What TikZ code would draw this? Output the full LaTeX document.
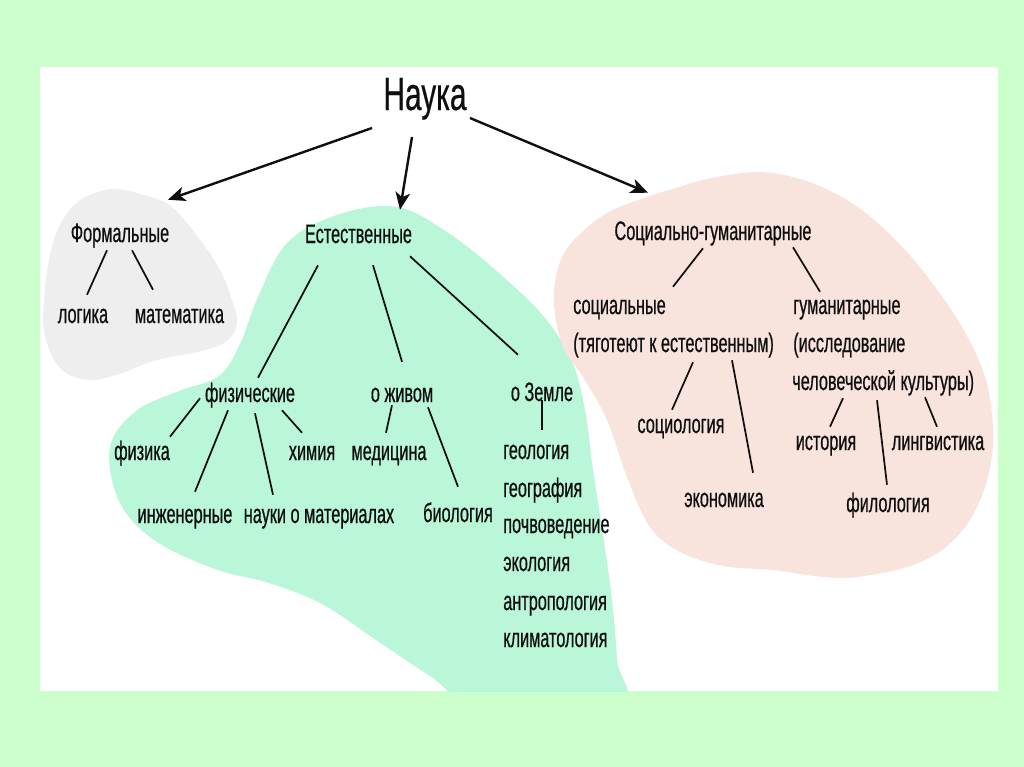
\documentclass[tikz,border=0pt]{standalone}
\usepackage{fontspec}
\setmainfont{Liberation Sans}[FakeStretch=0.61,FakeBold=0.6]
\newfontfamily\bigfont{Liberation Sans}[FakeStretch=0.64,FakeBold=0.4]
\usetikzlibrary{arrows.meta,calc}
\definecolor{bgcol}{RGB}{204,255,204}
\definecolor{greyblob}{RGB}{238,238,238}
\definecolor{mintblob}{RGB}{186,246,216}
\definecolor{pinkblob}{RGB}{249,228,221}
\definecolor{txt}{RGB}{15,15,15}
\begin{document}
\begin{tikzpicture}[x=0.75pt,y=-0.75pt,
  lbl/.style={inner sep=0pt, text height=13.5pt, text depth=3.75pt,
    font=\fontsize{20}{24}\selectfont, text=txt},
  lblc/.style={lbl, anchor=base},
  lbll/.style={lbl, anchor=base west},
  br/.style={line width=1.3pt, draw=txt},
  arr/.style={line width=1.8pt, draw=txt,
    -{Stealth[length=13pt,width=11pt,inset=3.5pt]}},
  blob/.style={smooth cycle, tension=0.6}
]
\useasboundingbox (0,0) rectangle (1024,767);
\fill[bgcol] (0,0) rectangle (1024,767);
\fill[white] (40,67) rectangle (998,691);
\begin{scope}
\clip (40,67) rectangle (998,691);
\fill[greyblob] plot[blob] coordinates {(113,189) (147,196) (172,207) (198,237) (220,270) (233,303) (237,325) (224,343) (197,352) (170,357) (147,363) (122,373) (90,380) (60,368) (44,330) (46,280) (53,243) (64,218) (82,199)};
\fill[mintblob] plot[blob] coordinates {(397,207) (447,232) (500,274) (545,318) (572,362) (585,410) (593,470) (603,535) (612,600) (617,660) (618,705) (480,705) (430,676) (376,640) (322,604) (269,583) (215,569) (154,540) (119,501) (110,447) (136,411) (179,391) (219,376) (240,344) (258,297) (288,242) (340,214)};
\fill[pinkblob] plot[blob] coordinates {(650,196) (673,189) (707,179) (757,172) (800,179) (840,196) (873,219) (907,252) (935,287) (962,327) (985,377) (993,430) (988,477) (970,520) (942,550) (907,567) (857,577) (823,577) (773,570) (723,566) (680,552) (650,527) (627,477) (607,420) (583,377) (563,347) (554,305) (558,268) (573,241) (607,213)};
\end{scope}

\node[anchor=base, inner sep=0pt, text=txt, font=\bigfont\fontsize{35}{40}\selectfont] (nauka) at (425,110) {Наука};

\node[lblc] (form) at (120,242) {Формальные};
\node[lblc] (log) at (83,323) {логика};
\node[lblc] (mat) at (179.5,323) {математика};

\node[lblc] (est) at (358.5,243) {Естественные};
\node[lblc] (fiz) at (250,402) {физические};
\node[lblc] (ziv) at (402,402) {о живом};
\node[lblc] (zem) at (542,401) {о Земле};
\node[lblc] (fizika) at (142,460) {физика};
\node[lblc] (him) at (312,460) {химия};
\node[lblc] (med) at (389,460) {медицина};
\node[lblc] (ing) at (185,523) {инженерные};
\node[lblc] (mater) at (319,523) {науки о материалах};
\node[lblc] (bio) at (458,522) {биология};
\node[lbll] (geo) at (503,459) {геология};
\node[lbll] (geogr) at (503,497) {география};
\node[lbll] (pochv) at (503,533) {почвоведение};
\node[lbll] (eko) at (503,571) {экология};
\node[lbll] (antr) at (503,610) {антропология};
\node[lbll] (klim) at (503,647) {климатология};

\node[lblc] (sg) at (713,240) {Социально-гуманитарные};
\node[lbll] (soc) at (573,314) {социальные};
\node[lbll] (tyag) at (573,352) {(тяготеют к естественным)};
\node[lbll] (gum) at (793,314) {гуманитарные};
\node[lbll] (issl) at (793,352) {(исследование};
\node[lbll] (chel) at (792,390) {человеческой культуры)};
\node[lblc] (socio) at (681,433) {социология};
\node[lblc] (ekon) at (724,507) {экономика};
\node[lblc] (ist) at (826,450) {история};
\node[lblc] (ling) at (938,450) {лингвистика};
\node[lblc] (filo) at (888,512) {филология};

% arrows from Наука
\draw[arr] ($(nauka.base)+(-53,18)$) -- ($(form.north)+(48,-24)$);
\draw[arr] ($(nauka.base)+(-13,27)$) -- ($(est.north)+(41.5,-15)$);
\draw[arr] ($(nauka.base)+(45,8)$) -- ($(sg.north)+(-65,-29)$);

% Формальные
\draw[br] ($(form.south)+(-13,3)$) -- ($(log.north)+(4,-10)$);
\draw[br] ($(form.south)+(12,3)$) -- ($(mat.north)+(-26.5,-15)$);

% Естественные
\draw[br] ($(est.south)+(-40.5,17)$) -- ($(fiz.north)+(8,-6)$);
\draw[br] ($(est.south)+(14.5,17)$) -- ($(ziv.north)+(0,-22)$);
\draw[br] ($(est.south)+(51.5,8)$) -- ($(zem.north)+(-24,-28)$);
\draw[br] ($(fiz.south)+(-50,-9)$) -- ($(fizika.north)+(28,-5)$);
\draw[br] ($(fiz.south)+(-22,3)$) -- ($(ing.north)+(10,-13)$);
\draw[br] ($(fiz.south)+(5,6)$) -- ($(mater.north)+(-46,-10)$);
\draw[br] ($(fiz.south)+(32,3)$) -- ($(him.north)+(-10,-9)$);
\draw[br] ($(ziv.south)+(-10,-2)$) -- ($(med.north)+(-3,-9)$);
\draw[br] ($(ziv.south)+(26,0)$) -- ($(bio.north)+(0,-17)$);
\draw[br] ($(zem.south)+(0,-6)$) -- ($(zem.south |- geo.north)+(0,-11)$);

% Социально-гуманитарные
\draw[br] ($(sg.south)+(-10,3)$) -- ($(soc.north west)+(100,-9)$);
\draw[br] ($(sg.south)+(80,2)$) -- ($(gum.north west)+(27,-4)$);
\draw[br] ($(tyag.south west)+(120,5)$) -- ($(socio.north)+(-9,-5)$);
\draw[br] ($(tyag.south west)+(159,3)$) -- ($(ekon.north)+(29,-16)$);
\draw[br] ($(chel.south west)+(51,3)$) -- ($(ist.north)+(4,-5)$);
\draw[br] ($(chel.south west)+(85,5)$) -- ($(filo.north)+(-1,-9)$);
\draw[br] ($(chel.south west)+(133,2)$) -- ($(ling.north)+(-1,-5)$);
\end{tikzpicture}
\end{document}
